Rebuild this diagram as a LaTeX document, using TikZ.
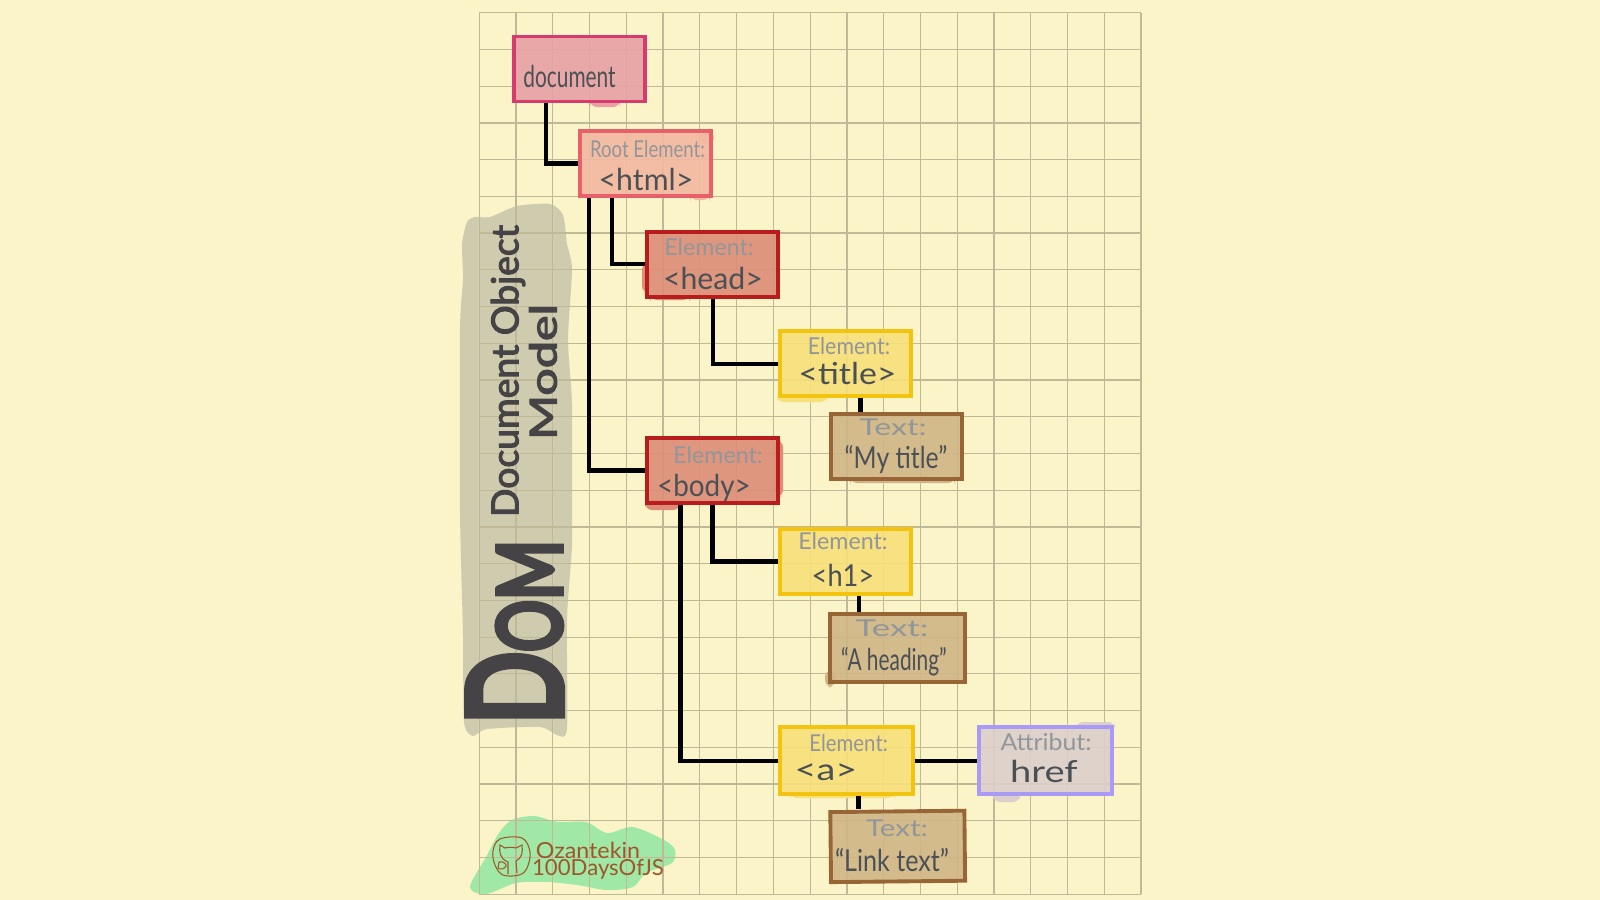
\documentclass[tikz,border=0pt]{standalone}
\usepackage{fontspec}
\usepackage{xcolor}
\setmainfont{Lato}
\newfontfamily\heavyfont[FakeBold=3]{Lato}
\newfontfamily\domfont[FakeBold=7]{Lato}
\usetikzlibrary{positioning}
\definecolor{paper}{HTML}{FBF4C8}
\definecolor{gridcol}{HTML}{BFB997}
\definecolor{ink}{HTML}{4A5054}
\definecolor{inkgrey}{HTML}{91969A}
\definecolor{dark}{HTML}{454346}
\definecolor{blobcol}{HTML}{CFCBAE}
\definecolor{greencol}{HTML}{9FE8A6}
\definecolor{browncol}{HTML}{A0562A}
\definecolor{docfill}{HTML}{E8A0A5}
\definecolor{docline}{HTML}{D63A6E}
\definecolor{rootfill}{HTML}{F2B8A0}
\definecolor{rootline}{HTML}{E8606A}
\definecolor{elemfill}{HTML}{DD8C78}
\definecolor{elemline}{HTML}{B91C1C}
\definecolor{leaffill}{HTML}{F7DF7A}
\definecolor{leafline}{HTML}{F2C40F}
\definecolor{textfill}{HTML}{CFB586}
\definecolor{textline}{HTML}{986536}
\definecolor{attrfill}{HTML}{DCCFCB}
\definecolor{attrline}{HTML}{A99BF5}
\tikzset{%
	box/.style      = {draw, rectangle, line width=1.1pt, minimum width=1.31cm, minimum height=.65cm, fill opacity=.9, inner sep=0pt},
	docbox/.style   = {box, draw=docline, fill=docfill},
	rootbox/.style  = {box, draw=rootline, fill=rootfill},
	elembox/.style  = {box, draw=elemline, fill=elemfill},
	leafbox/.style  = {box, draw=leafline, fill=leaffill},
	textbox/.style  = {box, draw=textline, fill=textfill},
	attrbox/.style  = {box, draw=attrline, fill=attrfill},
	wire/.style     = {line width=1.25pt, black},
	kindtext/.style = {text=inkgrey, inner sep=0pt, font=\fontsize{6.6}{7}\selectfont},
	tagtext/.style  = {text=ink, inner sep=0pt, font=\fontsize{8.6}{9}\selectfont},
	titletext/.style= {text=dark, inner sep=0pt, rotate=90, font=\fontsize{10.6}{12}\heavyfont},
	signtext/.style = {text=browncol, inner sep=0pt, font=\fontsize{6.3}{7}\selectfont},
}
\newcommand{\sq}[2]{\scalebox{#1}[1]{#2}}
\begin{document}
\begin{tikzpicture}[x=.01cm,y=-.01cm]
	\useasboundingbox (0,0) rectangle (1600,900);
	\fill[paper] (0,0) rectangle (1600,900);
	% title patch and signature patch
	\fill[blobcol] plot[smooth cycle,tension=.4] coordinates {(475,217) (490,217) (517,206) (550,204) (563,215) (567,244) (572,269) (568,340) (572,404) (572,511) (572,547) (567,619) (567,729) (557,735) (540,727) (487,729) (473,736) (464,722) (463,636) (460,511) (460,329) (463,279) (462,244) (467,222)};
	\fill[greencol] plot[smooth cycle,tension=.5] coordinates {(470,887) (486,857) (499,833) (512,820) (534,816) (558,822) (586,822) (607,833) (633,827) (664,840) (675,850) (672,863) (646,873) (633,887) (607,890) (577,885) (547,882) (516,883) (486,894)};
	% squared paper
	\foreach \i in {0,...,18}
		\draw[gridcol,line width=.35pt] ({479.3+\i*36.76},12.7) -- ({479.3+\i*36.76},894.3);
	\foreach \i in {0,...,24}
		\draw[gridcol,line width=.35pt] (479.3,{12.7+\i*36.73}) -- (1141,{12.7+\i*36.73});
	% colour running over the edges
	\fill[docfill,rounded corners=2] (590,100) rectangle (620,107);
	\fill[rootfill,rounded corners=2] (700,131) rectangle (714,144);
	\fill[rootfill,rounded corners=2] (690,195) rectangle (710,200);
	\fill[elemfill,rounded corners=2] (642,263) rectangle (650,293);
	\fill[elemfill,rounded corners=2] (650,295) rectangle (690,300);
	\fill[elemfill,rounded corners=2] (775,440) rectangle (783,497);
	\fill[elemfill,rounded corners=2] (645,500) rectangle (680,510);
	\fill[leaffill,rounded corners=2] (777,395) rectangle (827,402);
	\fill[textfill,rounded corners=2] (850,478) rectangle (955,483);
	\fill[textfill,rounded corners=2] (825,670) rectangle (835,687);
	\fill[leaffill,rounded corners=2] (790,793) rectangle (895,798);
	\fill[attrfill,rounded corners=2] (1076,722) rectangle (1115,730);
	\fill[attrfill,rounded corners=2] (993,793) rectangle (1020,802);
	% boxes
	\node[docbox]  (document) at (579.7,69) {};
	\node[rootbox] (html) at (645.3,163.6) {};
	\node[elembox] (head) at (712.7,264.2) {};
	\node[leafbox] (title) at (845.3,363.8) {};
	\node[textbox] (mytitle) at (896.1,446.2) {};
	\node[elembox] (body) at (712.5,470.6) {};
	\node[leafbox] (hone) at (845.3,561.6) {};
	\node[textbox,minimum width=1.35cm,minimum height=.68cm] (heading) at (897.7,647.6) {};
	\node[leafbox,minimum width=1.33cm,minimum height=.67cm] (anchor) at (846.2,760.8) {};
	\node[attrbox,minimum width=1.33cm,minimum height=.67cm] (href) at (1045.2,760.8) {};
	\node[textbox,minimum width=1.34cm,minimum height=.7cm,rotate=.6] (linktext) at (897.7,846.4) {};
	% connectors
	\draw[wire] ([xshift=.34cm]document.south west) |- (html.west);
	\draw[wire] ([xshift=.11cm]html.south west) |- (body.west);
	\draw[wire] ([xshift=.344cm]html.south west) |- (head.west);
	\draw[wire] (head.south) |- (title.west);
	\draw[wire] ([xshift=-.354cm]mytitle.north) -- ([xshift=-.354cm]mytitle.north |- title.south);
	\draw[wire] (body.south) |- (hone.west);
	\draw[wire] ([xshift=-.32cm]body.south) |- (anchor.west);
	\draw[wire] ([xshift=.134cm]hone.south) -- ([xshift=.134cm]hone.south |- heading.north);
	\draw[wire] (anchor.east) -- (href.west);
	\draw[wire] ([xshift=.123cm]anchor.south) -- ([xshift=.123cm]anchor.south |- linktext.north);
	% labels
	\node[tagtext] (documentname) at (569.5,76) {\sq{.69}{document}};
	\node[kindtext] (htmlkind) at (647.5,149) {\sq{.8}{Root Element:}};
	\node[tagtext] (htmltag) at (646,179) {<html>};
	\node[kindtext] (headkind) at (709,247) {Element:};
	\node[tagtext] (headtag) at (713,278) {<head>};
	\node[kindtext] (titlekind) at (849,346) {\sq{.92}{Element:}};
	\node[tagtext] (titletag) at (847.5,373) {\sq{1.12}{<title>}};
	\node[kindtext] (mytitlekind) at (893,427) {\sq{1.38}{Text:}};
	\node[tagtext] (mytitleval) at (896,460) {\sq{.82}{“My title”}};
	\node[kindtext] (bodykind) at (718,455) {Element:};
	\node[tagtext] (bodytag) at (704,488) {\sq{.92}{<body>}};
	\node[kindtext] (honekind) at (843,541) {Element:};
	\node[tagtext] (honetag) at (843,575) {\sq{.9}{<h1>}};
	\node[kindtext] (headingkind) at (892,628) {\sq{1.5}{Text:}};
	\node[tagtext] (headingval) at (894,662) {\sq{.69}{“A heading”}};
	\node[kindtext] (anchorkind) at (848.6,743) {\sq{.88}{Element:}};
	\node[tagtext] (anchortag) at (826,772) {\sq{1.25}{<a>}};
	\node[kindtext] (hrefkind) at (1046,742) {\sq{1.07}{Attribut:}};
	\node[tagtext] (hrefname) at (1044,771) {\sq{1.26}{href}};
	\node[kindtext] (linkkind) at (897,828) {\sq{1.27}{Text:}};
	\node[tagtext] (linkval) at (892,860) {\sq{.83}{“Link text”}};
	% title
	\node[titletext] (dom) at (515,632) {\resizebox{1.84cm}{.92cm}{\domfont D\scalebox{.68}{OM}}};
	\node[titletext] (domlong) at (508,371) {Document Object};
	\node[titletext] (dommodel) at (543,372) {\sq{1.3}{Model}};
	% signature
	\draw[browncol,line width=.3pt] plot[smooth cycle,tension=.6] coordinates {(500,839) (522,838) (530,852) (527,868) (519,875) (503,875) (495,865) (493,851)};
	\draw[browncol,line width=.3pt] (508,874) -- (508,862) .. controls (500,859) and (499,852) .. (500,845) -- (505,848) .. controls (509,847) and (512,847) .. (516,848) -- (522,845) .. controls (523,852) and (522,858) .. (516,861) -- (517,873);
	\draw[browncol,line width=.3pt] (499,862) .. controls (503,861) and (507,864) .. (506,866) .. controls (505,869) and (500,870) .. (498,868) -- cycle;
	\node[signtext] (signname) at (588,850) {\sq{1.05}{Ozantekin}};
	\node[signtext] (signrepo) at (598,869) {100DaysOfJS};
\end{tikzpicture}
\end{document}
